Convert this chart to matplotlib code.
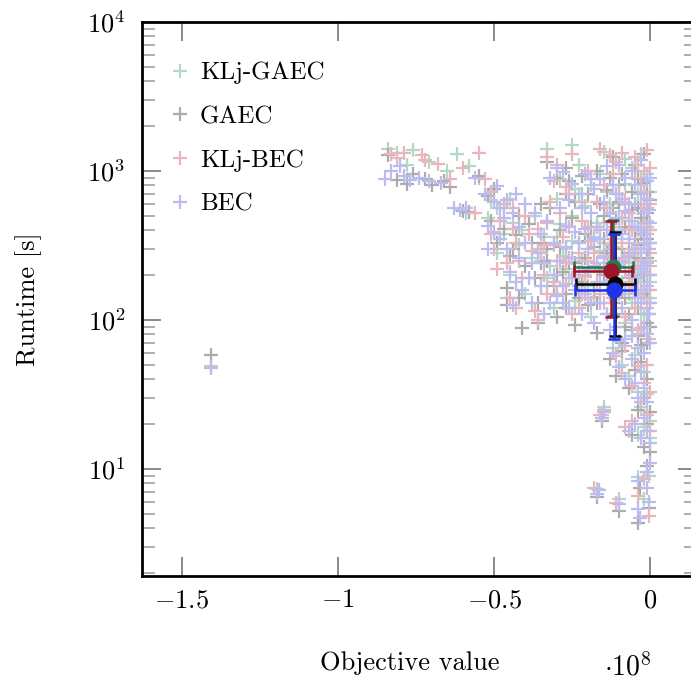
import matplotlib
matplotlib.use("Agg")
import matplotlib.pyplot as plt
from matplotlib.ticker import LogLocator, NullFormatter

# objective value in units of 1e8, runtime in seconds
klj_gaec_points = [
    (-1.405, 49),
    (-0.84, 1400), (-0.81, 1320), (-0.78, 1100), (-0.76, 1380), (-0.71, 1150), (-0.65, 1000),
    (-0.62, 1300), (-0.58, 1080), (-0.55, 900), (-0.51, 640), (-0.59, 520),
    (-0.33, 1400), (-0.25, 1500), (-0.23, 1100), (-0.15, 1350), (-0.12, 1250), (-0.08, 1200),
    (-0.06, 1050), (-0.03, 1300), (-0.01, 950),
    (-0.52, 480), (-0.49, 280), (-0.47, 380), (-0.45, 200), (-0.44, 450), (-0.42, 320), (-0.40, 150),
    (-0.38, 260), (-0.37, 500), (-0.35, 170), (-0.34, 360), (-0.32, 230), (-0.31, 120), (-0.29, 440),
    (-0.28, 270), (-0.26, 190), (-0.25, 340), (-0.24, 135), (-0.22, 250), (-0.21, 580), (-0.20, 170),
    (-0.19, 105), (-0.18, 360), (-0.17, 210), (-0.16, 290), (-0.30, 650), (-0.24, 760),
    (-0.49, 560), (-0.45, 650), (-0.41, 400), (-0.36, 300), (-0.33, 190), (-0.30, 360), (-0.27, 220),
    (-0.25, 500), (-0.23, 170), (-0.20, 300), (-0.18, 140), (-0.46, 140),
    (-0.29, 880), (-0.23, 700), (-0.19, 800), (-0.16, 950), (-0.14, 720), (-0.10, 600), (-0.35, 250),
    (-0.31, 180), (-0.27, 300), (-0.24, 120), (-0.21, 200), (-0.17, 450), (-0.14, 110), (-0.12, 200),
    (-0.15, 450), (-0.14, 200), (-0.13, 600), (-0.12, 310), (-0.11, 130), (-0.10, 400), (-0.09, 180),
    (-0.08, 820), (-0.08, 95), (-0.07, 460), (-0.07, 240), (-0.06, 130), (-0.05, 600), (-0.05, 300),
    (-0.04, 180), (-0.04, 80), (-0.03, 900), (-0.03, 380), (-0.02, 600), (-0.02, 210), (-0.02, 110),
    (-0.01, 460), (-0.01, 300), (-0.01, 140), (0.0, 720), (0.0, 250), (0.0, 90),
    (-0.15, 330), (-0.13, 150), (-0.11, 350), (-0.09, 260), (-0.07, 330), (-0.06, 200), (-0.05, 420),
    (-0.04, 250), (-0.03, 200), (-0.02, 320), (-0.01, 200), (0.0, 400), (0.0, 140), (-0.03, 110),
    (-0.07, 150), (-0.04, 700), (-0.02, 480), (0.0, 180),
    (-0.12, 65), (-0.09, 50), (-0.07, 42), (-0.05, 58), (-0.04, 33), (-0.03, 26), (-0.02, 45),
    (-0.02, 19), (-0.01, 32), (0.0, 21), (0.0, 16), (-0.15, 26), (-0.155, 23), (-0.04, 17),
    (-0.17, 7.3), (-0.10, 6.3), (-0.04, 8.8), (-0.005, 9.0), (-0.02, 6.3),
]

gaec_points = [
    (-1.405, 58),
    (-0.84, 1280), (-0.81, 870), (-0.78, 820), (-0.76, 950), (-0.72, 880), (-0.70, 810),
    (-0.66, 850), (-0.64, 780), (-0.60, 540), (-0.58, 530), (-0.55, 920), (-0.52, 680), (-0.50, 760),
    (-0.33, 1150), (-0.27, 1050), (-0.22, 920), (-0.17, 1000), (-0.12, 1250), (-0.09, 960),
    (-0.05, 1100), (-0.04, 880), (-0.02, 1300),
    (-0.51, 460), (-0.49, 330), (-0.47, 410), (-0.46, 165), (-0.45, 270), (-0.43, 370), (-0.41, 88),
    (-0.40, 230), (-0.39, 440), (-0.37, 190), (-0.36, 130), (-0.34, 330), (-0.33, 250), (-0.32, 560),
    (-0.30, 105), (-0.29, 400), (-0.28, 210), (-0.27, 150), (-0.25, 480), (-0.24, 92), (-0.23, 330),
    (-0.22, 180), (-0.21, 260), (-0.20, 125), (-0.19, 420), (-0.18, 310), (-0.17, 82), (-0.16, 220),
    (-0.35, 600), (-0.27, 700), (-0.42, 140),
    (-0.47, 560), (-0.44, 300), (-0.42, 500), (-0.38, 330), (-0.35, 240), (-0.31, 170), (-0.29, 310),
    (-0.26, 240), (-0.23, 140), (-0.21, 380), (-0.18, 160), (-0.46, 125), (-0.36, 95),
    (-0.30, 900), (-0.26, 850), (-0.24, 620), (-0.20, 700), (-0.16, 600), (-0.13, 900), (-0.10, 800),
    (-0.33, 300), (-0.30, 200), (-0.27, 120), (-0.24, 240), (-0.20, 340), (-0.17, 130), (-0.15, 200),
    (-0.15, 500), (-0.14, 280), (-0.13, 160), (-0.12, 380), (-0.11, 110), (-0.10, 620), (-0.10, 230),
    (-0.09, 70), (-0.08, 420), (-0.08, 140), (-0.07, 280), (-0.06, 720), (-0.06, 85), (-0.05, 350),
    (-0.05, 190), (-0.04, 560), (-0.04, 120), (-0.03, 230), (-0.03, 68), (-0.02, 830), (-0.02, 400),
    (-0.02, 150), (-0.01, 520), (-0.01, 260), (-0.01, 95), (0.0, 640), (0.0, 330), (0.0, 130),
    (-0.14, 750),
    (-0.15, 350), (-0.13, 240), (-0.12, 130), (-0.11, 480), (-0.09, 300), (-0.07, 190), (-0.07, 110),
    (-0.06, 420), (-0.05, 260), (-0.04, 320), (-0.03, 150), (-0.03, 480), (-0.02, 200), (-0.01, 350),
    (-0.01, 160), (0.0, 200), (0.0, 90), (-0.01, 70), (-0.04, 78), (-0.08, 90),
    (-0.12, 560), (-0.09, 160), (-0.06, 550), (-0.03, 380), (-0.01, 720), (-0.005, 110),
    (-0.13, 55), (-0.11, 42), (-0.09, 62), (-0.07, 35), (-0.05, 46), (-0.04, 25), (-0.03, 52),
    (-0.02, 30), (-0.01, 40), (-0.01, 20), (0.0, 24), (0.0, 13), (-0.155, 21), (-0.06, 17), (-0.02, 14),
    (-0.17, 6.5), (-0.10, 5.2), (-0.04, 4.3), (-0.035, 7.5), (-0.005, 5.5), (-0.01, 10.5),
]

klj_bec_points = [
    (-1.405, 48.5),
    (-0.83, 1300), (-0.81, 1220), (-0.79, 1330), (-0.73, 1280), (-0.72, 1180), (-0.68, 1120),
    (-0.64, 880), (-0.60, 1050), (-0.55, 1320), (-0.53, 880), (-0.56, 520), (-0.51, 720),
    (-0.33, 1250), (-0.30, 1100), (-0.25, 1300), (-0.20, 1000), (-0.16, 1400), (-0.13, 1280),
    (-0.11, 1150), (-0.09, 1320), (-0.05, 1250), (-0.04, 1100), (-0.01, 1380), (-0.02, 1000),
    (-0.51, 380), (-0.50, 300), (-0.48, 460), (-0.46, 240), (-0.45, 140), (-0.43, 330), (-0.41, 190),
    (-0.40, 500), (-0.38, 290), (-0.37, 115), (-0.36, 410), (-0.34, 200), (-0.33, 150), (-0.31, 320),
    (-0.30, 250), (-0.29, 520), (-0.27, 175), (-0.26, 420), (-0.25, 110), (-0.23, 280), (-0.22, 460),
    (-0.21, 195), (-0.20, 140), (-0.19, 340), (-0.18, 230), (-0.17, 620), (-0.16, 150), (-0.44, 560),
    (-0.32, 620), (-0.27, 780),
    (-0.49, 220), (-0.47, 600), (-0.44, 410), (-0.42, 250), (-0.39, 380), (-0.35, 280), (-0.33, 450),
    (-0.31, 180), (-0.28, 360), (-0.26, 260), (-0.24, 200), (-0.22, 150), (-0.20, 420), (-0.18, 280),
    (-0.43, 120), (-0.36, 100),
    (-0.31, 850), (-0.26, 700), (-0.22, 620), (-0.19, 880), (-0.15, 800), (-0.12, 950), (-0.08, 620),
    (-0.34, 320), (-0.30, 150), (-0.27, 240), (-0.23, 120), (-0.20, 250), (-0.17, 180), (-0.15, 130),
    (-0.15, 270), (-0.14, 560), (-0.13, 180), (-0.12, 420), (-0.11, 260), (-0.10, 150), (-0.10, 700),
    (-0.09, 330), (-0.08, 210), (-0.08, 105), (-0.07, 520), (-0.06, 300), (-0.06, 170), (-0.05, 900),
    (-0.05, 120), (-0.04, 400), (-0.04, 230), (-0.03, 600), (-0.03, 160), (-0.03, 88), (-0.02, 330),
    (-0.02, 720), (-0.01, 200), (-0.01, 560), (-0.01, 120), (0.0, 400), (0.0, 280), (0.0, 1050),
    (-0.005, 75),
    (-0.16, 400), (-0.14, 210), (-0.13, 320), (-0.11, 180), (-0.09, 480), (-0.08, 260), (-0.07, 180),
    (-0.06, 400), (-0.05, 220), (-0.04, 300), (-0.03, 250), (-0.02, 450), (-0.02, 140), (-0.01, 330),
    (0.0, 160), (0.0, 600), (-0.04, 85),
    (-0.12, 250), (-0.07, 400), (-0.05, 150), (-0.03, 800), (-0.01, 420), (0.0, 230),
    (-0.11, 57), (-0.09, 44), (-0.08, 67), (-0.06, 36), (-0.04, 49), (-0.03, 28), (-0.02, 38),
    (-0.01, 23), (-0.01, 50), (0.0, 33), (0.0, 18), (-0.15, 25), (-0.16, 23), (-0.06, 21), (-0.08, 19),
    (-0.18, 7.4), (-0.11, 5.9), (-0.04, 6.6), (-0.02, 8.5), (-0.005, 4.8),
]

bec_points = [
    (-1.405, 47.5),
    (-0.85, 880), (-0.83, 1000), (-0.80, 1080), (-0.79, 930), (-0.77, 870), (-0.74, 900), (-0.71, 860),
    (-0.67, 830), (-0.63, 560), (-0.61, 545), (-0.59, 560), (-0.56, 900), (-0.53, 700), (-0.50, 620),
    (-0.49, 790),
    (-0.30, 1050), (-0.28, 980), (-0.21, 960), (-0.19, 880), (-0.14, 1080), (-0.10, 1100), (-0.08, 900),
    (-0.06, 1000), (-0.03, 1180), (-0.01, 850),
    (-0.52, 430), (-0.50, 390), (-0.48, 350), (-0.46, 300), (-0.47, 480), (-0.44, 520), (-0.42, 420),
    (-0.40, 330), (-0.45, 210), (-0.43, 180), (-0.41, 160), (-0.38, 240), (-0.36, 280), (-0.35, 380),
    (-0.33, 460), (-0.31, 200), (-0.30, 145), (-0.28, 170), (-0.27, 310), (-0.26, 120), (-0.25, 260),
    (-0.24, 390), (-0.23, 210), (-0.22, 110), (-0.21, 150), (-0.20, 300), (-0.19, 520), (-0.18, 95),
    (-0.17, 240), (-0.16, 180), (-0.38, 130), (-0.34, 110), (-0.44, 125), (-0.29, 560), (-0.26, 640),
    (-0.22, 700),
    (-0.48, 560), (-0.46, 640), (-0.43, 700), (-0.40, 600), (-0.37, 520), (-0.35, 170), (-0.32, 130),
    (-0.29, 250), (-0.27, 430), (-0.24, 160), (-0.23, 330), (-0.20, 220), (-0.19, 130), (-0.17, 420),
    (-0.52, 300), (-0.42, 260), (-0.39, 190),
    (-0.32, 900), (-0.25, 820), (-0.22, 560), (-0.18, 760), (-0.16, 880), (-0.12, 800), (-0.09, 650),
    (-0.34, 240), (-0.31, 330), (-0.28, 130), (-0.25, 190), (-0.21, 410), (-0.18, 350), (-0.16, 130),
    (-0.15, 620), (-0.14, 400), (-0.13, 300), (-0.12, 140), (-0.11, 90), (-0.10, 480), (-0.09, 250),
    (-0.09, 120), (-0.08, 75), (-0.07, 600), (-0.07, 350), (-0.06, 200), (-0.06, 100), (-0.05, 800),
    (-0.05, 160), (-0.04, 420), (-0.04, 65), (-0.03, 700), (-0.03, 280), (-0.03, 130), (-0.02, 520),
    (-0.02, 230), (-0.02, 90), (-0.01, 650), (-0.01, 380), (-0.01, 170), (-0.01, 110), (-0.005, 300),
    (-0.005, 550), (0.0, 450), (0.0, 200), (-0.13, 520), (-0.11, 700), (-0.16, 350),
    (-0.15, 260), (-0.14, 180), (-0.12, 370), (-0.11, 230), (-0.09, 380), (-0.08, 160), (-0.07, 270),
    (-0.06, 460), (-0.05, 300), (-0.04, 190), (-0.04, 140), (-0.03, 400), (-0.02, 160), (-0.02, 330),
    (-0.01, 240), (0.0, 330), (0.0, 130), (0.0, 70), (-0.01, 80), (-0.02, 60), (-0.06, 78),
    (-0.10, 72), (-0.13, 85),
    (-0.14, 110), (-0.13, 230), (-0.08, 540), (-0.05, 600), (-0.03, 220), (0.0, 900), (-0.005, 110),
    (-0.12, 60), (-0.10, 48), (-0.08, 40), (-0.06, 55), (-0.05, 38), (-0.04, 30), (-0.03, 45),
    (-0.02, 35), (-0.02, 22), (-0.01, 28), (-0.01, 18), (0.0, 15), (0.0, 11), (-0.15, 24),
    (-0.155, 22), (-0.05, 20), (-0.03, 16), (-0.07, 18),
    (-0.17, 6.8), (-0.165, 7.2), (-0.10, 5.8), (-0.04, 8.3), (-0.04, 5.4), (-0.035, 4.7),
    (-0.01, 9.5), (-0.01, 7.5), (-0.005, 6.0),
]

series_names = ["KLj-GAEC", "GAEC", "KLj-BEC", "BEC"]
series_points = [klj_gaec_points, gaec_points, klj_bec_points, bec_points]
scatter_colors = ["#b4d8c8", "#acacac", "#e8b6bc", "#babcf2"]

# mean and spread per method: x, x_low, x_high, y, y_low, y_high
mean_x = [-0.120, -0.112, -0.125, -0.117]
mean_x_low = [-0.245, -0.238, -0.245, -0.242]
mean_x_high = [-0.057, -0.049, -0.060, -0.051]
mean_y = [227, 174, 213, 159]
mean_y_low = [106, 78, 104, 74]
mean_y_high = [470, 391, 463, 380]
mean_colors = ["#237a52", "#000000", "#a0142a", "#1e34e8"]
mean_order = [0, 2, 1, 3]

plt.rcParams["font.family"] = "cmr10"
plt.rcParams["mathtext.fontset"] = "cm"
plt.rcParams["axes.unicode_minus"] = False

fig = plt.figure(figsize=(6.91, 6.86), dpi=100)
ax = fig.add_axes([142 / 691, 1 - 576 / 686, (697 - 142) / 691, (576 - 22) / 686])

for name, pts, col in zip(series_names, series_points, scatter_colors):
    xs = [p[0] for p in pts]
    ys = [p[1] for p in pts]
    ax.plot(xs, ys, linestyle="none", marker="+", markersize=10.5,
            markeredgewidth=1.6, color=col, label=name)

for i in mean_order:
    xerr = [[mean_x[i] - mean_x_low[i]], [mean_x_high[i] - mean_x[i]]]
    yerr = [[mean_y[i] - mean_y_low[i]], [mean_y_high[i] - mean_y[i]]]
    ax.errorbar([mean_x[i]], [mean_y[i]], xerr=xerr, yerr=yerr, fmt="o",
                color=mean_colors[i], markersize=10.5, elinewidth=1.8,
                capsize=4.5, capthick=1.8, zorder=5)

ax.set_yscale("log")
ax.set_xlim(-1.627, 0.149)
ax.set_ylim(1.91, 1e4)

ax.set_xticks([-1.5, -1, -0.5, 0], labels=["$-1.5$", "$-1$", "$-0.5$", "$0$"])
ax.set_yticks([10, 100, 1000, 10000], labels=["$10^{1}$", "$10^{2}$", "$10^{3}$", "$10^{4}$"])
ax.yaxis.set_minor_locator(LogLocator(base=10, subs=range(2, 10)))
ax.yaxis.set_minor_formatter(NullFormatter())
ax.xaxis.set_minor_locator(plt.NullLocator())

ax.tick_params(which="both", direction="in", top=True, right=True, labelsize=19)
ax.tick_params(which="major", length=14, width=1.3, color="#808080")
ax.tick_params(which="minor", length=9.5, width=1.3, color="#a8a8a8")
ax.tick_params(axis="y", which="major", pad=12)
ax.tick_params(axis="x", which="major", pad=9)
for sp in ax.spines.values():
    sp.set_linewidth(2.0)

ax.set_xlabel("Objective value", fontsize=19)
ax.set_ylabel("Runtime [s]", fontsize=19)
ax.xaxis.set_label_coords(0.483, -0.135)
ax.yaxis.set_label_coords(-0.18, 0.5)
fig.text(628 / 691, 1 - 667 / 686, r"$\cdot 10^{8}$", fontsize=20, ha="center", va="center")

ax.legend(loc="upper left", bbox_to_anchor=(0.05, 0.928), frameon=False, fontsize=18,
          handlelength=0.8, handletextpad=0.4, labelspacing=0.85, borderpad=0, borderaxespad=0)

fig.savefig("out.png", dpi=100)
